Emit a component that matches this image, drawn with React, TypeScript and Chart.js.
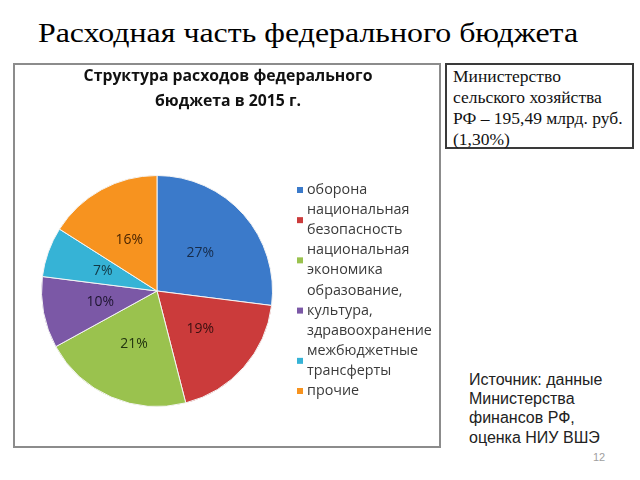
import React, { useEffect, useRef } from "react";
import { Chart, registerables } from "chart.js";

Chart.register(...registerables);

const slideTitle = "Расходная часть федерального бюджета";
const chartTitleLines = ["Структура расходов федерального", "бюджета в 2015 г."];
const categories = [
  "оборона",
  "национальная безопасность",
  "национальная экономика",
  "образование, культура, здравоохранение",
  "межбюджетные трансферты",
  "прочие",
];
const legendLines = [
  ["оборона"],
  ["национальная", "безопасность"],
  ["национальная", "экономика"],
  ["образование,", "культура,", "здравоохранение"],
  ["межбюджетные", "трансферты"],
  ["прочие"],
];
const shares = [27, 19, 21, 10, 7, 16];
const sliceColors = ["#3B7ACA", "#CB3B3B", "#9AC24E", "#7B58A6", "#36B3D6", "#F7931F"];
const labelColors = ["#172c4a", "#3a1010", "#233510", "#1e1530", "#123845", "#4a2500"];
const noteLines = ["Министерство", "сельского хозяйства", "РФ – 195,49 млрд. руб.", "(1,30%)"];
const sourceLines = ["Источник: данные", "Министерства", "финансов РФ,", "оценка НИУ ВШЭ"];
const pageNumber = "12";

const SANS = '"Open Sans", "Noto Sans", sans-serif';

function fitSize(ctx: CanvasRenderingContext2D, text: string, weight: string, target: number) {
  ctx.font = `${weight} 100px ${SANS}`;
  const w = ctx.measureText(text).width;
  return (100 * target) / w;
}

const overlayPlugin = {
  id: "overlay",
  afterDatasetsDraw(chart: any) {
    const ctx: CanvasRenderingContext2D = chart.ctx;
    ctx.save();
    ctx.textAlign = "center";
    ctx.textBaseline = "middle";

    // percentage labels
    const meta = chart.getDatasetMeta(0);
    const pct = fitSize(ctx, "27%", "normal", 27.5);
    ctx.font = `normal ${pct}px ${SANS}`;
    meta.data.forEach((arc: any, i: number) => {
      const p = arc.getCenterPoint();
      ctx.fillStyle = labelColors[i];
      ctx.fillText(shares[i] + "%", p.x, p.y);
    });

    // chart title
    const ts = fitSize(ctx, chartTitleLines[0], "bold", 289);
    ctx.font = `bold ${ts}px ${SANS}`;
    ctx.fillStyle = "#111111";
    chartTitleLines.forEach((line, i) => {
      ctx.fillText(line, 213, 11 + i * 25);
    });

    // legend
    const ls = fitSize(ctx, "здравоохранение", "normal", 125);
    ctx.font = `normal ${ls}px ${SANS}`;
    ctx.textAlign = "left";
    const step = 20.1;
    let row = 0;
    const colors = chart.data.datasets[0].backgroundColor;
    legendLines.forEach((lines, i) => {
      const first = 125 + row * step;
      const mid = first + ((lines.length - 1) * step) / 2;
      ctx.fillStyle = colors[i];
      ctx.fillRect(282, mid - 3, 6, 6);
      ctx.fillStyle = "#3a3a3a";
      lines.forEach((l, k) => {
        ctx.fillText(l, 292, first + k * step);
      });
      row += lines.length;
    });
    ctx.restore();
  },
};

function PieChart() {
  const ref = useRef<HTMLCanvasElement | null>(null);
  useEffect(() => {
    if (!ref.current) return;
    const chart = new Chart(ref.current, {
      type: "pie",
      data: {
        labels: categories,
        datasets: [
          {
            data: shares,
            backgroundColor: sliceColors,
            borderColor: "#f4f4f4",
            borderWidth: 1,
          },
        ],
      },
      options: {
        responsive: false,
        animation: false,
        layout: { padding: { left: 26, right: 165, top: 110, bottom: 38 } },
        plugins: {
          legend: { display: false },
          tooltip: { enabled: false },
          title: { display: false },
        },
      },
      plugins: [overlayPlugin],
    } as any);
    return () => chart.destroy();
  }, []);
  return (
    <canvas
      ref={ref}
      width={423}
      height={380}
      style={{ position: "absolute", left: 15, top: 65, width: 423, height: 380, display: "block" }}
    />
  );
}

export default function App() {
  return (
    <div
      style={{
        position: "fixed",
        left: 0,
        top: 0,
        width: 640,
        height: 480,
        background: "#ffffff",
        overflow: "hidden",
      }}
    >
      <div
        style={{
          position: "absolute",
          left: 0,
          top: 19,
          width: 616,
          textAlign: "center",
          whiteSpace: "nowrap",
          fontFamily: '"Liberation Serif", "Times New Roman", serif',
          fontSize: 27.5,
          lineHeight: "28px",
          color: "#000",
          transform: "scaleX(1.16)",
          transformOrigin: "308px 50%",
        }}
      >
        {slideTitle}
      </div>

      <div
        style={{
          position: "absolute",
          left: 13,
          top: 63,
          width: 428,
          height: 385,
          boxSizing: "border-box",
          border: "2px solid #8c8c8c",
        }}
      />
      <PieChart />

      <div
        style={{
          position: "absolute",
          left: 445,
          top: 63,
          width: 189,
          height: 86,
          boxSizing: "border-box",
          border: "2px solid #3a3a3a",
          paddingLeft: 6,
          paddingTop: 1.3,
          fontFamily: '"Liberation Serif", "Times New Roman", serif',
          fontSize: 17.5,
          lineHeight: "21px",
          color: "#111",
          whiteSpace: "nowrap",
        }}
      >
        {noteLines.map((l, i) => (
          <div key={i}>{l}</div>
        ))}
      </div>

      <div
        style={{
          position: "absolute",
          left: 469,
          top: 369.8,
          fontFamily: '"Liberation Sans", Arial, sans-serif',
          fontSize: 16,
          lineHeight: "19.3px",
          color: "#222",
          whiteSpace: "nowrap",
        }}
      >
        {sourceLines.map((l, i) => (
          <div key={i}>{l}</div>
        ))}
      </div>

      <div
        style={{
          position: "absolute",
          left: 593,
          top: 451.7,
          fontFamily: '"Liberation Sans", Arial, sans-serif',
          fontSize: 11,
          lineHeight: "11px",
          color: "#a0a0a0",
        }}
      >
        {pageNumber}
      </div>
    </div>
  );
}
